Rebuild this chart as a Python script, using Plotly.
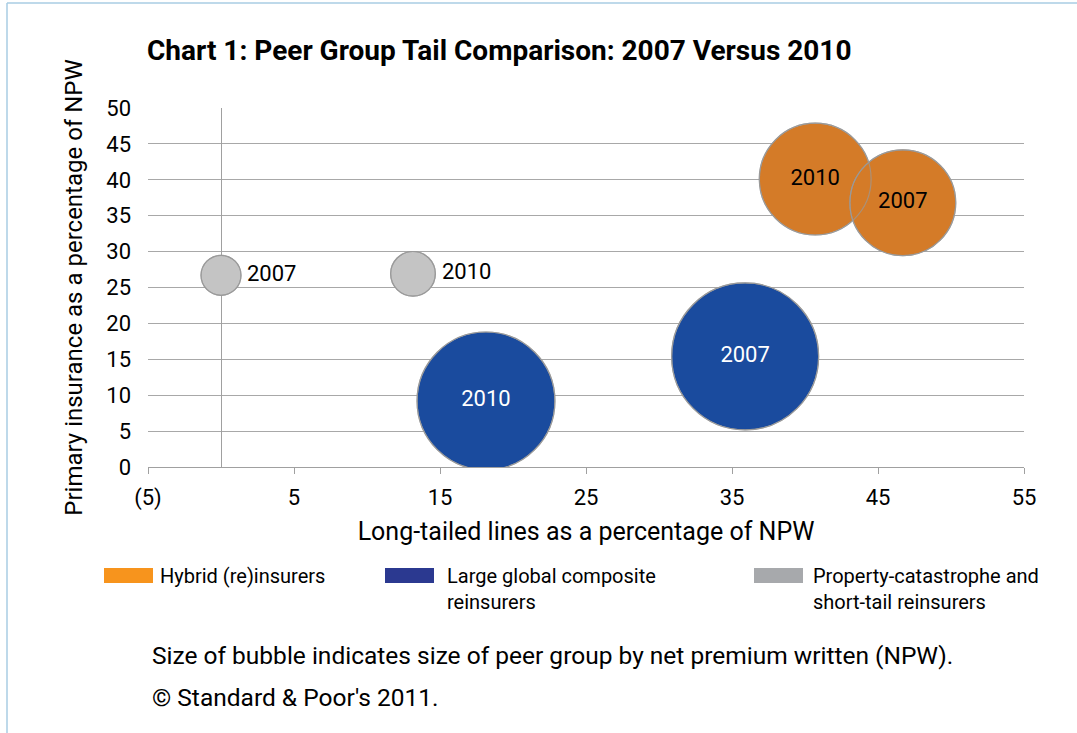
import plotly.graph_objects as go

# Data
groups = ["Hybrid (re)insurers", "Large global composite\nreinsurers", "Property-catastrophe and\nshort-tail reinsurers"]
years = {
    "hybrid": ["2010", "2007"],
    "composite": ["2010", "2007"],
    "propcat": ["2007", "2010"],
}
long_tail = {
    "hybrid": [40.7, 46.7],
    "composite": [18.15, 35.9],
    "propcat": [0.0, 13.15],
}
primary = {
    "hybrid": [40.1, 36.8],
    "composite": [9.2, 15.4],
    "propcat": [26.7, 26.9],
}
# relative NPW (bubble area)
npw = {
    "hybrid": [12.5, 11.2],
    "composite": [19.0, 21.6],
    "propcat": [1.6, 2.0],
}
x_ticks = [-5, 5, 15, 25, 35, 45, 55]
x_ticktext = ["(5)", "5", "15", "25", "35", "45", "55"]
y_ticks = [0, 5, 10, 15, 20, 25, 30, 35, 40, 45, 50]

FONT = "Roboto, Liberation Sans, sans-serif"
bubble_fill = {"hybrid": "#D47B28", "composite": "#1A4B9E", "propcat": "#C4C4C4"}
legend_fill = {"hybrid": "#F7941D", "composite": "#2B3990", "propcat": "#A7A9AC"}
text_col = {"hybrid": "black", "composite": "white", "propcat": "black"}
text_pos = {"hybrid": "middle center", "composite": "middle center", "propcat": "middle right"}

W, H = 1077, 733
L, R, T, B = 148, 53, 108, 266
PW, PH = W - L - R, H - T - B
SREF = 0.002


def px(xp):
    return (xp - L) / PW


def py(yp):
    return (H - B - yp) / PH


fig = go.Figure()
keys = ["hybrid", "composite", "propcat"]
for k in keys:
    fig.add_trace(go.Scatter(
        x=long_tail[k], y=primary[k], mode="markers",
        marker=dict(size=npw[k], sizemode="area", sizeref=SREF, color=bubble_fill[k],
                    opacity=1, line=dict(color="#9A9A9A", width=1.2)),
        showlegend=False, hoverinfo="skip",
    ))
# outline overlay + labels
for k in keys:
    fig.add_trace(go.Scatter(
        x=long_tail[k], y=primary[k], mode="markers+text",
        text=years[k], textposition=text_pos[k],
        textfont=dict(family=FONT, size=22, color=text_col[k]),
        marker=dict(size=npw[k], sizemode="area", sizeref=SREF, color="rgba(0,0,0,0)",
                    line=dict(color="#9A9A9A", width=1.2)),
        showlegend=False, hoverinfo="skip",
    ))

fig.update_layout(
    width=W, height=H,
    margin=dict(l=L, r=R, t=T, b=B),
    paper_bgcolor="white", plot_bgcolor="white",
    font=dict(family=FONT, color="black"),
    xaxis=dict(range=[-5, 55], tickvals=x_ticks, ticktext=x_ticktext,
               showgrid=False, zeroline=True, zerolinecolor="#A0A0A0", zerolinewidth=1.3,
               showline=True, linecolor="#A0A0A0", linewidth=1.3,
               ticks="outside", ticklen=6, tickcolor="#A0A0A0", ticklabelstandoff=4,
               tickfont=dict(size=22), title=dict(text="Long-tailed lines as a percentage of NPW",
                                                  font=dict(size=25), standoff=12)),
    yaxis=dict(range=[0, 50], tickvals=y_ticks, showgrid=True, gridcolor="#A8A8A8", gridwidth=1.3,
               zeroline=False, showline=False, ticks="", tickfont=dict(size=22), ticklabelstandoff=16,
               title=dict(text="Primary insurance as a percentage of NPW", font=dict(size=24), standoff=16)),
)

fig.add_annotation(text="<b>Chart 1: Peer Group Tail Comparison: 2007 Versus 2010</b>",
                   xref="paper", yref="paper", x=px(145), y=py(50), xanchor="left", yanchor="middle",
                   showarrow=False, font=dict(size=28, family=FONT))

# custom legend
leg_x = [104, 385, 754]
leg_text_x = [158, 445, 811]
for i, k in enumerate(keys):
    fig.add_shape(type="rect", xref="paper", yref="paper",
                  x0=px(leg_x[i]), x1=px(leg_x[i] + 49), y0=py(568), y1=py(583),
                  fillcolor=legend_fill[k], line=dict(width=0))
    fig.add_annotation(text=groups[i].replace("\n", "<br>"), xref="paper", yref="paper",
                       x=px(leg_text_x[i]), y=py(562), xanchor="left", yanchor="top", align="left",
                       showarrow=False, font=dict(size=20, family=FONT))

fig.add_annotation(text="Size of bubble indicates size of peer group by net premium written (NPW).",
                   xref="paper", yref="paper", x=px(150), y=py(655), xanchor="left", yanchor="middle",
                   showarrow=False, font=dict(size=24.5, family=FONT))
fig.add_annotation(text="© Standard & Poor's 2011.",
                   xref="paper", yref="paper", x=px(150), y=py(697), xanchor="left", yanchor="middle",
                   showarrow=False, font=dict(size=24.5, family=FONT))

# light frame on top and left
fig.add_shape(type="line", xref="paper", yref="paper", x0=px(7), x1=px(W + 5), y0=py(3), y1=py(3),
              line=dict(color="#A9CDE3", width=1.5))
fig.add_shape(type="line", xref="paper", yref="paper", x0=px(7), x1=px(7), y0=py(3), y1=py(H + 5),
              line=dict(color="#A9CDE3", width=1.5))

fig.write_html("out.html", config={"displayModeBar": False},
               post_script="document.body.style.margin='0';")
